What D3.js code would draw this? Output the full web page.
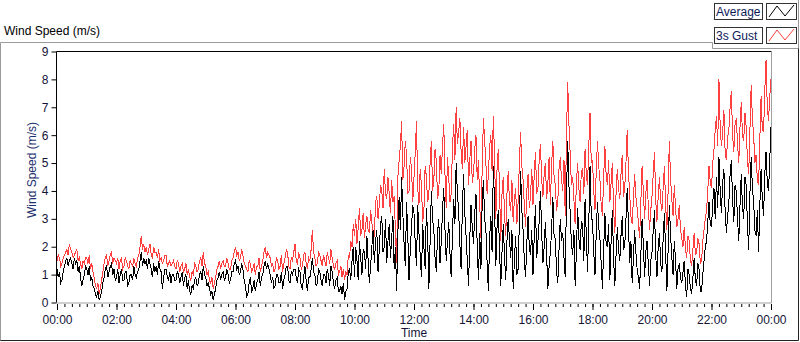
<!DOCTYPE html>
<html>
<head>
<meta charset="utf-8">
<script src="https://cdn.jsdelivr.net/npm/d3@7/dist/d3.min.js"></script>
<style>
  body { margin: 0; background: #fff; }
  svg { display: block; font-family: "Liberation Sans", Arial, sans-serif; }
</style>
</head>
<body>
<div id="chart"></div>
<script>
// samples every 2.5 minutes, 00:00 -> 24:00 (24 per hour row)
const stepMinutes = 2.5;
const seriesNames = ['Average', '3s Gust'];
const seriesColors = ['#000000', '#ff4040'];
const xTickHours = [0, 2, 4, 6, 8, 10, 12, 14, 16, 18, 20, 22, 24];
const xTickLabels = ['00:00', '02:00', '04:00', '06:00', '08:00', '10:00', '12:00', '14:00', '16:00', '18:00', '20:00', '22:00', '00:00'];
const yTicks = [0, 1, 2, 3, 4, 5, 6, 7, 8, 9];

const gust = [
  1.5,1.7,1.6,1.3,1.4,1.6,1.7,1.8,1.9,1.7,2.1,1.9,1.8,1.6,1.7,1.8,1.9,1.5,1.6,1.4,1.2,1.5,1.4,1.6, // 00h
  1.6,1.4,1.7,1.2,1.4,1.1,0.9,0.6,0.5,0.7,0.3,0.5,0.8,1.1,1.4,1.6,1.7,1.3,1.5,1.7,1.8,1.4,1.6,1.5, // 01h
  1.4,1.6,1.2,1.5,1.6,1.2,1.3,1.6,1.5,1.3,1.2,1.5,1.4,1.3,1.6,1.4,1.3,1.6,1.7,2.0,2.4,1.9,2.1,1.8, // 02h
  2.0,1.7,1.9,2.1,1.7,1.6,2.0,1.8,1.8,1.6,1.9,1.5,1.6,1.4,1.5,1.7,1.7,1.3,1.4,1.5,1.3,1.4,1.5,1.3, // 03h
  1.2,1.5,1.4,1.1,1.3,1.4,1.1,1.2,1.4,1.0,1.2,0.9,0.8,1.1,1.0,1.4,1.3,1.1,1.2,1.5,1.6,1.3,1.8,1.4, // 04h
  1.3,1.0,1.1,0.8,0.7,0.9,0.5,0.7,0.9,1.2,1.3,1.5,1.2,1.4,1.5,1.3,1.3,1.6,1.4,1.2,1.2,1.5,1.6,1.8, // 05h
  2.0,1.7,1.8,1.5,1.6,1.9,1.7,1.4,1.3,1.2,1.1,1.5,1.4,1.1,1.2,1.4,1.0,1.3,1.3,1.6,1.1,1.3,1.5,1.8, // 06h
  2.0,1.6,1.8,1.7,1.6,1.3,1.4,1.1,1.2,1.6,1.5,1.2,1.3,1.7,1.1,1.4,1.6,1.9,1.8,1.3,1.2,1.6,1.5,1.8, // 07h
  2.1,1.5,1.4,1.8,1.6,1.2,1.3,1.7,1.8,1.4,1.2,1.6,1.5,1.9,2.6,1.8,1.6,1.3,1.4,1.8,1.7,1.5,1.3,1.7, // 08h
  1.5,1.3,1.8,1.6,1.4,1.9,1.6,1.3,1.2,1.4,1.5,1.0,1.1,1.3,0.9,1.2,0.8,1.1,1.0,1.7,1.6,2.2,2.0,2.8, // 09h
  2.4,3.0,2.1,2.7,3.4,2.4,2.6,3.2,2.3,2.8,3.1,2.6,2.5,3.3,2.9,2.2,2.4,3.6,3.8,3.0,3.5,4.2,4.0,3.4, // 10h
  4.8,3.9,3.7,4.5,3.9,3.2,4.4,3.6,3.8,2.6,1.4,4.5,5.1,5.6,6.5,4.4,4.9,5.8,5.3,3.9,4.0,5.2,4.8,3.6, // 11h
  4.5,5.4,6.5,4.1,3.5,4.8,4.2,2.9,3.3,4.9,4.5,3.6,3.9,5.0,5.8,4.0,4.4,5.5,5.1,3.7,4.0,5.3,4.6,5.6, // 12h
  6.4,4.6,3.4,5.2,4.5,3.6,3.9,5.5,6.4,5.1,7.0,5.7,6.1,6.6,5.4,4.8,6.3,5.0,5.6,6.2,4.2,5.1,5.8,4.3, // 13h
  4.6,5.5,6.0,4.4,5.1,3.6,2.3,4.9,6.6,5.8,5.0,3.9,4.6,5.6,6.0,4.7,6.7,5.2,3.0,4.8,5.5,4.1,2.2,3.9, // 14h
  4.5,3.2,2.4,3.9,4.7,3.6,3.3,4.4,2.9,3.7,4.1,2.8,3.6,5.0,6.1,4.9,4.4,3.5,2.7,4.0,4.6,3.4,3.8,4.8, // 15h
  3.5,4.6,5.4,3.9,4.1,5.1,5.7,4.4,3.8,4.6,5.0,3.7,4.3,5.2,3.5,4.9,5.8,4.5,4.2,3.3,3.6,4.8,5.2,4.4, // 16h
  4.0,5.1,3.1,6.0,7.9,6.4,5.3,4.2,4.5,3.7,2.8,4.3,5.0,4.1,3.6,4.7,4.8,3.9,5.5,4.6,4.2,5.6,6.8,5.0, // 17h
  5.1,4.0,3.3,4.7,5.8,4.9,4.4,3.5,3.1,4.5,5.6,4.6,4.2,5.1,3.6,4.3,5.0,3.4,2.5,3.9,4.8,4.1,3.7,4.6, // 18h
  5.3,3.8,4.1,5.0,6.2,4.7,3.9,3.1,2.8,3.7,4.6,3.8,3.4,2.9,2.3,3.6,4.9,4.0,3.0,3.9,4.4,3.5,2.6,3.3, // 19h
  3.8,4.6,5.4,3.7,2.9,3.8,4.5,3.6,3.3,4.1,4.9,3.5,2.6,4.0,5.8,4.4,3.7,3.1,4.2,3.4,2.7,3.0,3.5,2.6, // 20h
  2.3,2.0,2.7,1.9,1.6,2.4,2.2,1.5,1.3,1.9,2.5,1.7,1.8,2.3,2.1,1.4,1.5,2.2,2.6,3.0,3.3,4.0,4.9,4.3, // 21h
  4.1,5.0,5.5,6.2,6.7,5.6,8.0,6.3,5.6,6.1,6.9,5.4,5.1,5.9,6.2,7.0,7.6,6.0,5.4,6.4,6.6,5.7,5.0,6.3, // 22h
  7.2,6.0,5.8,6.8,6.3,5.1,4.6,6.2,7.8,6.6,6.0,5.0,5.3,4.4,4.2,5.9,7.4,6.2,6.1,7.6,8.7,7.0,6.5,7.4, // 23h
  8.0
];

const average = [
  1.2,0.9,1.1,0.7,0.8,1.1,1.3,1.5,1.6,1.3,1.5,1.6,1.4,1.2,1.6,1.4,1.5,1.1,1.3,0.9,0.6,0.8,1.0,1.3, // 00h
  1.2,1.0,1.3,0.8,0.9,0.6,0.5,0.3,0.2,0.4,0.1,0.2,0.4,0.7,0.9,1.2,1.3,0.9,1.1,1.3,1.4,1.0,1.2,0.8, // 01h
  0.9,1.2,0.7,1.0,1.2,0.8,0.8,1.1,1.1,0.6,0.7,1.0,1.0,0.8,1.3,1.0,0.9,1.1,1.2,1.5,1.8,1.3,1.6,1.4, // 02h
  1.5,1.2,1.6,1.4,1.2,0.9,1.4,1.1,1.3,1.0,1.5,1.2,1.1,0.5,0.9,1.2,1.2,0.9,0.8,1.1,0.7,1.0,1.0,0.8, // 03h
  0.8,1.1,1.0,0.7,0.9,1.1,0.6,0.9,1.0,0.5,0.8,0.4,0.3,0.6,0.5,0.8,0.9,0.6,0.7,1.0,1.1,0.8,1.3,1.0, // 04h
  0.9,0.6,0.7,0.5,0.3,0.4,0.1,0.3,0.5,0.8,0.9,1.1,0.8,1.0,1.1,0.8,0.9,1.2,1.0,0.7,0.8,1.1,1.1,1.4, // 05h
  1.5,1.2,1.3,1.0,1.1,1.4,1.2,0.8,0.6,0.2,0.3,0.7,0.9,0.4,0.5,0.8,0.4,0.7,0.8,1.1,0.6,0.9,1.0,1.3, // 06h
  1.5,1.2,1.4,1.2,1.0,0.7,0.9,0.5,0.6,1.0,1.0,0.7,0.7,1.1,0.5,0.8,1.0,1.3,1.3,0.8,0.7,1.1,1.0,1.2, // 07h
  1.2,0.9,0.7,1.2,1.1,0.6,0.5,0.9,1.3,0.8,0.4,0.9,0.9,1.2,1.6,1.1,1.0,0.6,0.7,1.2,1.1,0.8,0.6,1.0, // 08h
  1.0,0.7,1.2,1.0,0.6,1.3,1.1,0.7,0.5,0.8,0.9,0.4,0.4,0.6,0.3,0.7,0.1,0.4,0.5,1.1,1.2,0.8,1.5,2.0, // 09h
  0.9,2.0,1.5,0.8,2.2,1.6,1.0,1.9,1.8,1.2,2.4,1.5,0.7,1.3,2.0,2.6,1.4,2.2,2.6,1.1,1.9,2.8,3.1,1.8, // 10h
  2.0,3.0,1.4,2.2,2.8,1.6,2.3,3.1,1.2,2.0,0.4,2.5,3.8,2.6,4.5,3.2,2.1,1.3,3.6,2.4,0.8,1.9,2.7,3.5, // 11h
  3.2,2.1,1.3,3.5,2.5,1.7,0.9,2.8,2.0,1.2,3.4,2.4,0.5,2.2,4.0,3.0,2.6,1.6,1.1,2.5,3.0,1.4,2.2,3.3, // 12h
  4.1,2.6,1.5,2.2,2.9,1.8,0.9,2.4,3.7,2.8,5.0,3.9,3.3,2.1,1.2,3.4,4.6,3.2,2.4,1.5,0.6,2.3,3.5,2.7, // 13h
  2.1,3.2,3.9,2.0,0.8,2.5,1.2,3.6,4.4,3.0,2.6,1.4,0.4,2.3,3.1,1.8,4.9,3.5,1.3,2.7,3.3,1.9,0.6,1.8, // 14h
  2.8,1.7,0.8,2.2,3.0,2.3,1.6,2.6,0.5,1.5,2.4,1.0,1.2,2.9,4.7,3.3,2.6,1.5,0.9,2.1,3.1,2.0,1.7,2.6, // 15h
  1.0,2.4,3.5,1.6,2.2,2.9,4.0,2.5,1.4,2.0,2.9,1.7,0.5,1.3,1.8,2.6,3.8,2.4,2.3,1.1,0.7,1.9,3.0,2.2, // 16h
  2.5,1.6,0.9,3.8,5.8,4.2,3.2,2.1,1.7,2.6,0.6,1.8,3.4,2.3,1.9,2.9,2.8,1.5,3.7,2.4,1.1,2.8,4.9,3.1, // 17h
  2.9,1.8,1.0,2.5,3.6,2.7,2.3,1.4,0.5,1.9,3.2,2.1,2.0,2.8,0.8,2.2,3.3,1.6,0.6,1.7,2.7,1.9,1.5,2.4, // 18h
  3.1,1.9,2.0,3.0,4.1,2.8,1.4,2.2,0.7,1.6,2.6,1.8,1.2,0.9,0.5,1.7,3.0,2.1,0.9,1.8,2.2,1.4,0.6,1.5, // 19h
  1.8,2.6,3.3,1.7,0.9,2.0,2.5,1.4,1.1,2.3,3.2,1.8,0.4,1.9,3.5,2.4,1.6,1.0,2.2,1.5,0.5,1.2,1.4,0.9, // 20h
  0.7,1.1,1.5,0.6,0.2,1.2,1.0,0.5,0.3,0.9,1.6,0.8,0.6,1.4,1.2,0.4,0.4,1.0,1.5,2.0,2.2,2.9,3.6,2.8, // 21h
  2.7,3.6,4.1,3.0,4.5,3.4,5.2,4.0,3.2,4.3,4.8,3.3,2.5,3.1,3.6,4.6,5.1,3.7,2.9,4.2,4.0,3.0,2.2,3.5, // 22h
  4.6,3.4,3.0,4.5,4.2,2.8,1.9,3.9,5.2,4.1,3.6,2.6,2.4,3.3,1.8,3.5,4.8,3.7,3.1,4.6,5.4,4.3,4.0,5.1, // 23h
  6.3
];

const width = 800, height = 342;
const plot = { left: 57, right: 771, top: 51.5, bottom: 302.5 };

const svg = d3.select('#chart').append('svg')
  .attr('width', width)
  .attr('height', height);

const xScale = d3.scaleLinear().domain([0, 24]).range([plot.left, plot.right]);
const yScale = d3.scaleLinear().domain([0, 9]).range([plot.bottom, plot.top]);

// panel frame
svg.append('path')
  .attr('d', 'M0.5,341 V42.5 H712.5 V48.5 H798.5 V0')
  .attr('fill', 'none').attr('stroke', '#9a9a9a');
svg.append('path')
  .attr('d', 'M798.5,48.5 V340.5 H0.5')
  .attr('fill', 'none').attr('stroke', '#222');

svg.append('text')
  .attr('x', 4).attr('y', 35)
  .attr('font-size', 12).attr('fill', '#000')
  .text('Wind Speed (m/s)');

// legend
const legend = svg.selectAll('.legend')
  .data(seriesNames)
  .enter().append('g')
  .attr('class', 'legend')
  .attr('transform', (d, i) => 'translate(0,' + (i * 24) + ')');

legend.append('rect')
  .attr('x', 714.5).attr('y', 3.5).attr('width', 48).attr('height', 16)
  .attr('fill', '#fff').attr('stroke', '#333');
legend.append('text')
  .attr('x', 716).attr('y', 16)
  .attr('font-size', 12).attr('fill', '#0d1a5a')
  .text(d => d);
legend.append('rect')
  .attr('x', 766.5).attr('y', 3.5).attr('width', 30).attr('height', 16)
  .attr('fill', '#fff').attr('stroke', '#333');
legend.append('path')
  .attr('d', 'M769,17 L777,6 L785,16 L794,5')
  .attr('fill', 'none')
  .attr('stroke', (d, i) => seriesColors[i]);

// clip
svg.append('clipPath').attr('id', 'plotClip')
  .append('rect')
  .attr('x', plot.left).attr('y', plot.top)
  .attr('width', plot.right - plot.left).attr('height', plot.bottom - plot.top);

const line = d3.line()
  .x((d, i) => xScale(i * stepMinutes / 60))
  .y(d => yScale(d));

const chartLayer = svg.append('g').attr('clip-path', 'url(#plotClip)');
chartLayer.append('path')
  .datum(gust)
  .attr('d', line)
  .attr('fill', 'none')
  .attr('stroke', seriesColors[1])
  .attr('stroke-width', 1)
  .attr('shape-rendering', 'crispEdges');
chartLayer.append('path')
  .datum(average)
  .attr('d', line)
  .attr('fill', 'none')
  .attr('stroke', seriesColors[0])
  .attr('stroke-width', 1)
  .attr('shape-rendering', 'crispEdges');

// plot frame: dark top/left, grey bottom/right
svg.append('path')
  .attr('d', 'M' + (plot.left - 0.5) + ',' + plot.bottom + ' V' + plot.top + ' H' + (plot.right + 0.5))
  .attr('fill', 'none').attr('stroke', '#000');
svg.append('path')
  .attr('d', 'M' + (plot.right + 0.5) + ',' + plot.top + ' V' + (plot.bottom + 0.5) + ' H' + (plot.left - 0.5))
  .attr('fill', 'none').attr('stroke', '#a0a0a0');

// y axis
const yAxis = d3.axisLeft(yScale)
  .tickValues(yTicks)
  .tickSize(5)
  .tickPadding(3)
  .tickFormat(d3.format('d'));
const yG = svg.append('g')
  .attr('transform', 'translate(' + (plot.left - 0.5) + ',0)')
  .call(yAxis);
yG.select('.domain').remove();
yG.selectAll('line').attr('stroke', '#000');
yG.selectAll('text')
  .attr('font-family', '"Liberation Sans", Arial, sans-serif')
  .attr('font-size', 12).attr('fill', '#141438');

// x axis minor ticks every 15 min
const minorHours = d3.range(0, 24.001, 0.25);
const xMinor = d3.axisBottom(xScale)
  .tickValues(minorHours)
  .tickSize(3)
  .tickFormat('');
const xMinorG = svg.append('g')
  .attr('transform', 'translate(0,' + (plot.bottom + 1.5) + ')')
  .call(xMinor);
xMinorG.select('.domain').remove();
xMinorG.selectAll('line').attr('stroke', '#000');

const xAxis = d3.axisBottom(xScale)
  .tickValues(xTickHours)
  .tickSize(6)
  .tickPadding(5)
  .tickFormat((d, i) => xTickLabels[i]);
const xG = svg.append('g')
  .attr('transform', 'translate(0,' + (plot.bottom + 1.5) + ')')
  .call(xAxis);
xG.select('.domain').remove();
xG.selectAll('line').attr('stroke', '#000');
xG.selectAll('text')
  .attr('font-family', '"Liberation Sans", Arial, sans-serif')
  .attr('font-size', 12).attr('fill', '#141438');

svg.append('text')
  .attr('x', (plot.left + plot.right) / 2).attr('y', 337)
  .attr('text-anchor', 'middle')
  .attr('font-size', 12).attr('fill', '#141438')
  .text('Time');

svg.append('text')
  .attr('transform', 'translate(36,170) rotate(-90)')
  .attr('text-anchor', 'middle')
  .attr('font-size', 12).attr('fill', '#1c2f6e')
  .text('Wind Speed (m/s)');
</script>
</body>
</html>
